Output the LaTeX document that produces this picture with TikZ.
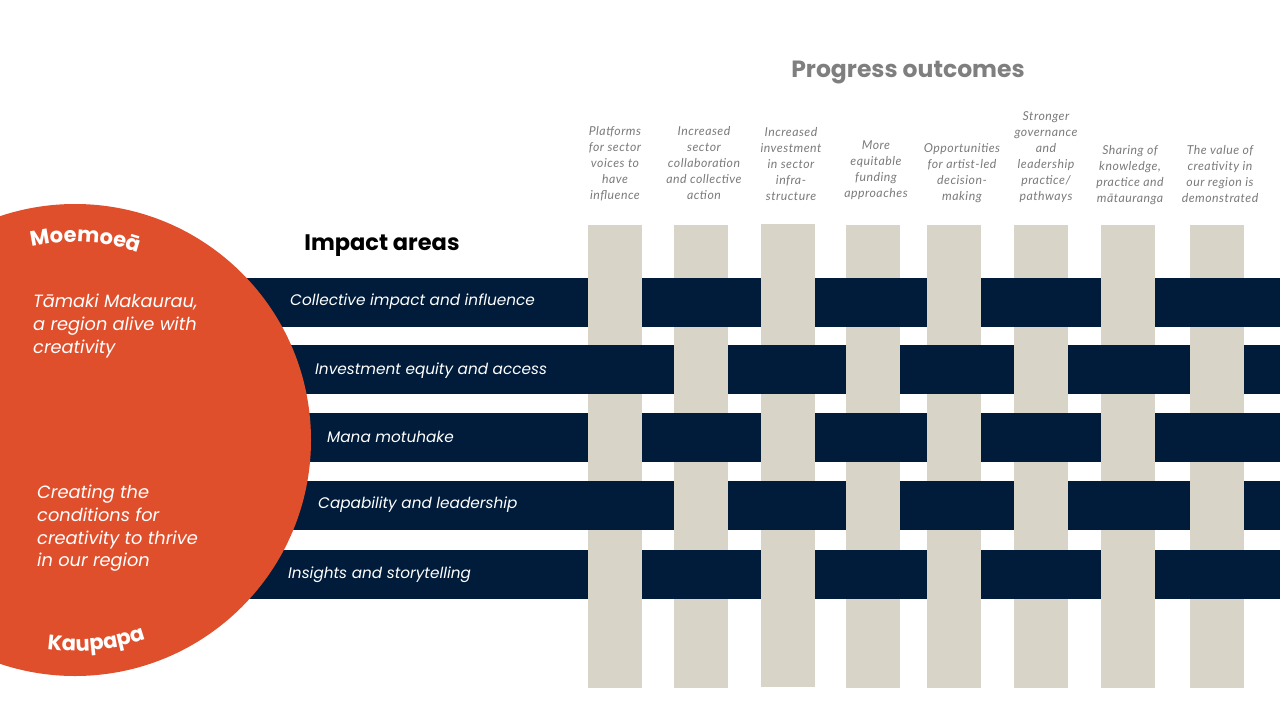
\documentclass[tikz,border=0pt]{standalone}
\usepackage{fontspec}
\usetikzlibrary{decorations.text}
\setmainfont{Poppins}
\newfontfamily\hdrfont[LetterSpace=4]{Lato}
\definecolor{navy}{HTML}{011C3A}
\definecolor{sand}{HTML}{D8D5C8}
\definecolor{orng}{HTML}{E04F2C}
\definecolor{hgray}{HTML}{7F7F7F}
\definecolor{lgray}{HTML}{7A7A7A}
\begin{document}
\begin{tikzpicture}[x=1pt,y=-1pt,
  colbar/.style={fill=sand, inner sep=0, outer sep=0, minimum width=54pt, minimum height=463pt, anchor=north},
  rowbar/.style={fill=navy, inner sep=0, outer sep=0, minimum width=1100pt, minimum height=49pt, anchor=west},
  rowlbl/.style={text=white, anchor=west, inner sep=0, font=\itshape\fontsize{15.3}{18}\selectfont},
  hdr/.style={text=lgray, anchor=north, inner sep=0, align=center, font=\hdrfont\itshape\fontsize{12.3}{16}\selectfont},
  circtxt/.style={text=white, anchor=north west, inner sep=0, align=left, font=\itshape\fontsize{17.8}{22.7}\selectfont},
  arctxt/.style={decorate, decoration={text along path, text align=center, text color=white, text={|\bfseries\fontsize{21}{25}\selectfont|#1}}},
  ttl/.style={inner sep=0, font=\bfseries\fontsize{22.5}{26}\selectfont}]
\useasboundingbox (0,0) rectangle (1280,720);
\clip (0,0) rectangle (1280,720);
% columns
\node[colbar] (c1) at (615,225) {};
\node[colbar] (c2) at (701,225) {};
\node[colbar] (c3) at (788,224) {};
\node[colbar] (c4) at (872.5,225) {};
\node[colbar] (c5) at (954,225) {};
\node[colbar] (c6) at (1040.5,225) {};
\node[colbar] (c7) at (1128,225) {};
\node[colbar] (c8) at (1217,225) {};
% rows
\node[rowbar] (r1) at (200,302.5) {};
\node[rowbar] (r2) at (200,369.5) {};
\node[rowbar] (r3) at (200,437) {};
\node[rowbar] (r4) at (200,505.5) {};
\node[rowbar] (r5) at (200,574.5) {};
% weave: columns passing over rows
\foreach \i in {1,3,5,7}{\foreach \j in {1,3,5}{
  \fill[sand] (c\i.west |- r\j.north) rectangle (c\i.east |- r\j.south);}}
\foreach \i in {2,4,6,8}{\foreach \j in {2,4}{
  \fill[sand] (c\i.west |- r\j.north) rectangle (c\i.east |- r\j.south);}}
% circle
\node[circle, fill=orng, inner sep=0, minimum size=472pt] (vision) at (75,440) {};
\path[arctxt={Moemoeā}] (vision.center) ++(-110:198) arc[start angle=-110, end angle=-64, radius=198];
\path[arctxt={Kaupapa}] (vision.center) ++(100:211) arc[start angle=100, end angle=68, radius=211];
\node[circtxt] (vis) at (33,294) {Tāmaki Makaurau,\\a region alive with\\creativity};
\node[circtxt] (kt) at (37,485) {Creating the\\conditions for\\creativity to thrive\\in our region};
% row labels
\node[rowlbl] (l1) at (290,302) {Collective impact and influence};
\node[rowlbl] (l2) at (315,371) {Investment equity and access};
\node[rowlbl] (l3) at (327,437) {Mana motuhake};
\node[rowlbl] (l4) at (318,505) {Capability and leadership};
\node[rowlbl] (l5) at (288,575) {Insights and storytelling};
% titles
\node[ttl, text=black] (ia) at (382,246) {Impact areas};
\node[ttl, text=hgray, font=\bfseries\fontsize{23.5}{27}\selectfont] (po) at (908,72) {Progress outcomes};
% headers
\node[hdr] (h1) at (615,126) {Platforms\\for sector\\voices to\\have\\influence};
\node[hdr] (h2) at (704,126) {Increased\\sector\\collaboration\\and collective\\action};
\node[hdr] (h3) at (791,127) {Increased\\investment\\in sector\\infra-\\structure};
\node[hdr] (h4) at (876,140) {More\\equitable\\funding\\approaches};
\node[hdr] (h5) at (962,143) {Opportunities\\for artist-led\\decision-\\making};
\node[hdr] (h6) at (1046,111) {Stronger\\governance\\and\\leadership\\practice/\\pathways};
\node[hdr] (h7) at (1130,145) {Sharing of\\knowledge,\\practice and\\mātauranga};
\node[hdr] (h8) at (1220,145) {The value of\\creativity in\\our region is\\demonstrated};
\end{tikzpicture}
\end{document}
